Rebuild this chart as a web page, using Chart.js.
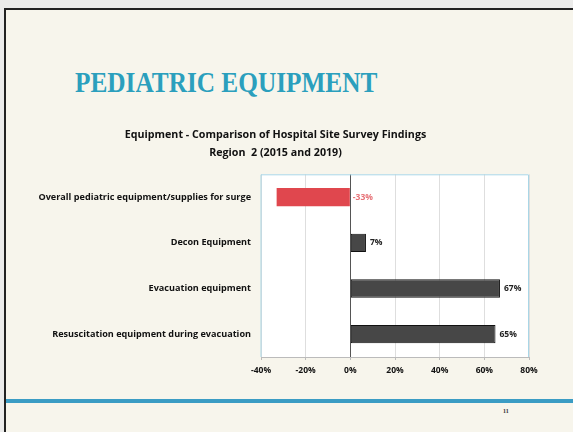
<!DOCTYPE html>
<html>
<head>
<meta charset="utf-8">
<script src="https://cdn.jsdelivr.net/npm/chart.js@4.4.0/dist/chart.umd.min.js"></script>
<style>
	html, body { margin: 0; padding: 0; }
	body { width: 573px; height: 432px; overflow: hidden; background: #ebebea; position: relative; }
	#slide {
		position: absolute; left: 4px; top: 8px; width: 569px; height: 424px;
		background: #f7f5ec;
		border-left: 2px solid #222; border-top: 2px solid #222;
	}
	#heading {
		position: absolute; left: 75px; top: 66px; margin: 0;
		font-family: "Liberation Serif", serif; font-weight: bold; font-size: 29px;
		color: #2b9fbd; white-space: nowrap;
		transform: scaleX(0.872); transform-origin: left top;
	}
	#rule { position: absolute; left: 6px; top: 399px; width: 567px; height: 4px; background: #3b9cc4; }
	#pagenum { position: absolute; left: 503px; top: 408px; font: bold 6px "Liberation Serif", serif; color: #333; }
	#wrap { position: absolute; left: 0; top: 0; width: 573px; height: 432px; }
</style>
</head>
<body>
<div id="slide"></div>
<h1 id="heading">PEDIATRIC EQUIPMENT</h1>
<div id="rule"></div>
<div id="pagenum">11</div>
<div id="wrap"><canvas id="chart" width="573" height="432"></canvas></div>
<script>
const chartTitle = ['Equipment - Comparison of Hospital Site Survey Findings', 'Region  2 (2015 and 2019)'];
const categories = ['Overall pediatric equipment/supplies for surge', 'Decon Equipment', 'Evacuation equipment', 'Resuscitation equipment during evacuation'];
const changeValues = [-33, 7, 67, 65];
const xTicks = [-40, -20, 0, 20, 40, 60, 80];

const labelFont = '"Open Sans", sans-serif';

// white plot area with light blue outline
const plotBox = {
	id: 'plotBox',
	beforeDraw(chart){
		const a = chart.chartArea;
		const c = chart.ctx;
		c.save();
		c.fillStyle = '#ffffff';
		c.fillRect(a.left, a.top, a.right - a.left, a.bottom - a.top);
		c.restore();
	},
	afterDraw(chart){
		const a = chart.chartArea;
		const c = chart.ctx;
		c.save();
		c.strokeStyle = '#a9d6e6';
		c.lineWidth = 1;
		c.beginPath();
		c.moveTo(a.left, a.bottom);
		c.lineTo(a.left, a.top + 0.5);
		c.lineTo(a.right - 0.5, a.top + 0.5);
		c.lineTo(a.right - 0.5, a.bottom);
		c.stroke();
		c.restore();
	}
};

// value labels next to the bars
const barLabels = {
	id: 'barLabels',
	afterDatasetsDraw(chart){
		const c = chart.ctx;
		const meta = chart.getDatasetMeta(0);
		c.save();
		c.font = 'bold 8.5px ' + labelFont;
		c.textBaseline = 'middle';
		c.textAlign = 'left';
		meta.data.forEach((bar, i) => {
			const v = changeValues[i];
			if (v < 0){
				c.fillStyle = '#e77479';
				c.fillText(v + '%', bar.base + 3, bar.y);
			} else {
				c.fillStyle = '#222222';
				c.fillText(v + '%', bar.x + 4, bar.y);
			}
		});
		c.restore();
	}
};

new Chart(document.getElementById('chart'), {
	type: 'bar',
	data: {
		labels: categories,
		datasets: [{
			data: changeValues,
			backgroundColor: changeValues.map(v => v < 0 ? '#e0474e' : '#474747'),
			borderColor: changeValues.map(v => v < 0 ? '#e0474e' : '#111111'),
			borderWidth: changeValues.map(v => v < 0 ? 0 : 1),
			borderSkipped: false,
			barPercentage: 0.4,
			categoryPercentage: 1
		}]
	},
	plugins: [plotBox, barLabels],
	options: {
		indexAxis: 'y',
		responsive: false,
		animation: false,
		layout: { padding: { left: 22, right: 44, top: 126, bottom: 0 } },
		plugins: {
			legend: { display: false },
			tooltip: { enabled: false },
			title: {
				display: true,
				text: chartTitle,
				color: '#111111',
				font: { family: labelFont, weight: 'bold', size: 10.7, lineHeight: 1.65 },
				padding: { top: 0, bottom: 13 }
			}
		},
		scales: {
			x: {
				min: -40,
				max: 80,
				afterBuildTicks(axis){ axis.ticks = xTicks.map(v => ({ value: v })); },
				afterFit(axis){ axis.height = 75; },
				grid: {
					color: ctx => ctx.tick && ctx.tick.value === 0 ? '#555555' : '#dedede',
					tickColor: '#bbbbbb',
					tickLength: 3
				},
				border: { display: true, color: '#bbbbbb' },
				ticks: {
					padding: 5,
					color: '#111111',
					font: { family: labelFont, weight: 'bold', size: 8.5 },
					callback: v => v + '%'
				}
			},
			y: {
				afterFit(axis){ axis.width = 239; },
				grid: { display: false, drawTicks: false },
				border: { display: false },
				ticks: {
					padding: 10,
					color: '#111111',
					font: { family: labelFont, weight: 'bold', size: 9.1 }
				}
			}
		}
	}
});
</script>
</body>
</html>
